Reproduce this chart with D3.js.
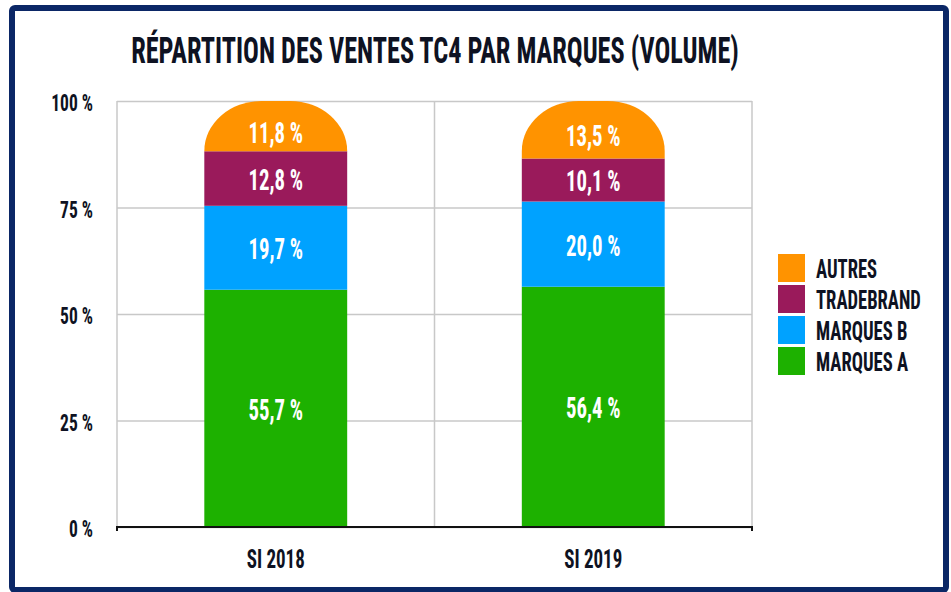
<!DOCTYPE html>
<html><head><meta charset="utf-8">
<script src="https://cdn.jsdelivr.net/npm/d3@7"></script>
<style>
html,body{margin:0;padding:0;background:#fff;}
svg{display:block;}
</style></head>
<body>
<svg id="chart" width="951" height="592"></svg>
<script>
const categories = ["SI 2018", "SI 2019"];
const seriesNames = ["MARQUES A", "MARQUES B", "TRADEBRAND", "AUTRES"];
const marquesA = [55.7, 56.4];
const marquesB = [19.7, 20.0];
const tradebrand = [12.8, 10.1];
const autres = [11.8, 13.5];
const yTicks = [0, 25, 50, 75, 100];
const colors = ["#1DB100", "#00A2FF", "#9A1A5B", "#FF9300"];
const titleText = "RÉPARTITION DES VENTES TC4 PAR MARQUES (VOLUME)";

const FONT = "'Liberation Sans Narrow','Roboto Condensed','DejaVu Sans Condensed','Liberation Sans',sans-serif";
const INK = "#0e1222";

const svg = d3.select("#chart");
const rows = categories.map((c, i) => ({
  cat: c, "MARQUES A": marquesA[i], "MARQUES B": marquesB[i], "TRADEBRAND": tradebrand[i], "AUTRES": autres[i]
}));
const stackData = d3.stack().keys(seriesNames)(rows);

const pLeft = 117, pRight = 752, pTop = 101, pBottom = 527;
const x = d3.scaleBand().domain(categories).range([pLeft, pRight]).padding(0);
const y = d3.scaleLinear().domain([0, 100]).range([pBottom, pTop]);
const color = d3.scaleOrdinal().domain(seriesNames).range(colors);

// border
svg.append("rect").attr("x", 12).attr("y", 8).attr("width", 934).attr("height", 582)
  .attr("rx", 3).attr("fill", "none").attr("stroke", "#0b2766").attr("stroke-width", 6);

// title (calibrate condensation)
const title = svg.append("text").attr("x", 0).attr("y", 0)
  .attr("font-family", FONT).attr("font-weight", "bold").attr("font-size", 36)
  .attr("fill", INK).attr("text-anchor", "middle").text(titleText);
const natural = title.node().getComputedTextLength();
const r = Math.min(1, 608 / natural);
title.attr("transform", `translate(435,63) scale(${r},1)`);

// gridlines + y axis
const yAxis = d3.axisLeft(y).tickValues(yTicks).tickSize(-(pRight - pLeft)).tickPadding(0)
  .tickFormat(d => d + " %");
const gy = svg.append("g").attr("transform", `translate(${pLeft},0)`).call(yAxis);
gy.select(".domain").remove();
gy.selectAll(".tick line").attr("stroke", "#c8c8c8").attr("stroke-width", 1.5);
gy.selectAll(".tick text")
  .attr("x", null).attr("dy", null)
  .attr("font-family", FONT).attr("font-weight", "bold").attr("font-size", 24)
  .attr("fill", INK).attr("text-anchor", "end").attr("dominant-baseline", "central")
  .attr("transform", `translate(-24,2) scale(${r},1)`);

// vertical grid lines
const vx = [pLeft, ...categories.slice(1).map(c => x(c)), pRight];
svg.append("g").selectAll("line").data(vx).join("line")
  .attr("x1", d => d).attr("x2", d => d).attr("y1", pTop).attr("y2", pBottom)
  .attr("stroke", "#c8c8c8").attr("stroke-width", 1.5);

// bars
const bw = x.bandwidth() * 0.45;
const bx = c => x(c) + (x.bandwidth() - bw) / 2;
const gBars = svg.append("g");
stackData.forEach((s, si) => {
  const isTop = si === stackData.length - 1;
  s.forEach((d, i) => {
    const c = categories[i];
    const x0 = bx(c), x1 = x0 + bw;
    const yT = y(d[1]), yB = y(d[0]);
    if (isTop) {
      const rx = 57, ry = Math.min(50, yB - yT);
      const p = `M${x0},${yB} L${x0},${yT + ry} A${rx},${ry} 0 0 1 ${x0 + rx},${yT} L${x1 - rx},${yT} A${rx},${ry} 0 0 1 ${x1},${yT + ry} L${x1},${yB} Z`;
      gBars.append("path").attr("d", p).attr("fill", color(s.key));
    } else {
      gBars.append("rect").attr("x", x0).attr("y", yT).attr("width", bw).attr("height", yB - yT)
        .attr("fill", color(s.key));
    }
    const v = d[1] - d[0];
    const lbl = v.toFixed(1).replace(".", ",") + " %";
    gBars.append("text")
      .attr("transform", `translate(${x0 + bw / 2},${(yT + yB) / 2 + (isTop ? 6 : 1)}) scale(${r * 0.95},1)`)
      .attr("text-anchor", "middle").attr("dominant-baseline", "central")
      .attr("font-family", FONT).attr("font-weight", "bold").attr("font-size", 30)
      .attr("fill", "#fff").text(lbl);
  });
});

// baseline
svg.append("path").attr("d", `M${pLeft},${pBottom + 4} L${pLeft},${pBottom} L${pRight},${pBottom} L${pRight},${pBottom + 4}`)
  .attr("fill", "none").attr("stroke", "#111").attr("stroke-width", 2);

// x axis labels
const xAxis = d3.axisBottom(x).tickSize(0).tickPadding(0);
const gx = svg.append("g").attr("transform", `translate(0,${pBottom})`).call(xAxis);
gx.select(".domain").remove();
gx.selectAll(".tick text")
  .attr("y", null).attr("dy", null)
  .attr("font-family", FONT).attr("font-weight", "bold").attr("font-size", 26)
  .attr("fill", INK).attr("text-anchor", "middle")
  .attr("transform", `translate(0,41) scale(${r},1)`);

// legend
const legendOrder = seriesNames.slice().reverse();
const lg = svg.append("g").selectAll("g").data(legendOrder).join("g")
  .attr("transform", (d, i) => `translate(778,${254 + i * 31})`);
lg.append("rect").attr("width", 27).attr("height", 28).attr("fill", d => color(d));
lg.append("text")
  .attr("transform", `translate(38,15) scale(${r},1)`)
  .attr("dominant-baseline", "central")
  .attr("font-family", FONT).attr("font-weight", "bold").attr("font-size", 25.5)
  .attr("fill", INK).text(d => d);
</script>
</body></html>
